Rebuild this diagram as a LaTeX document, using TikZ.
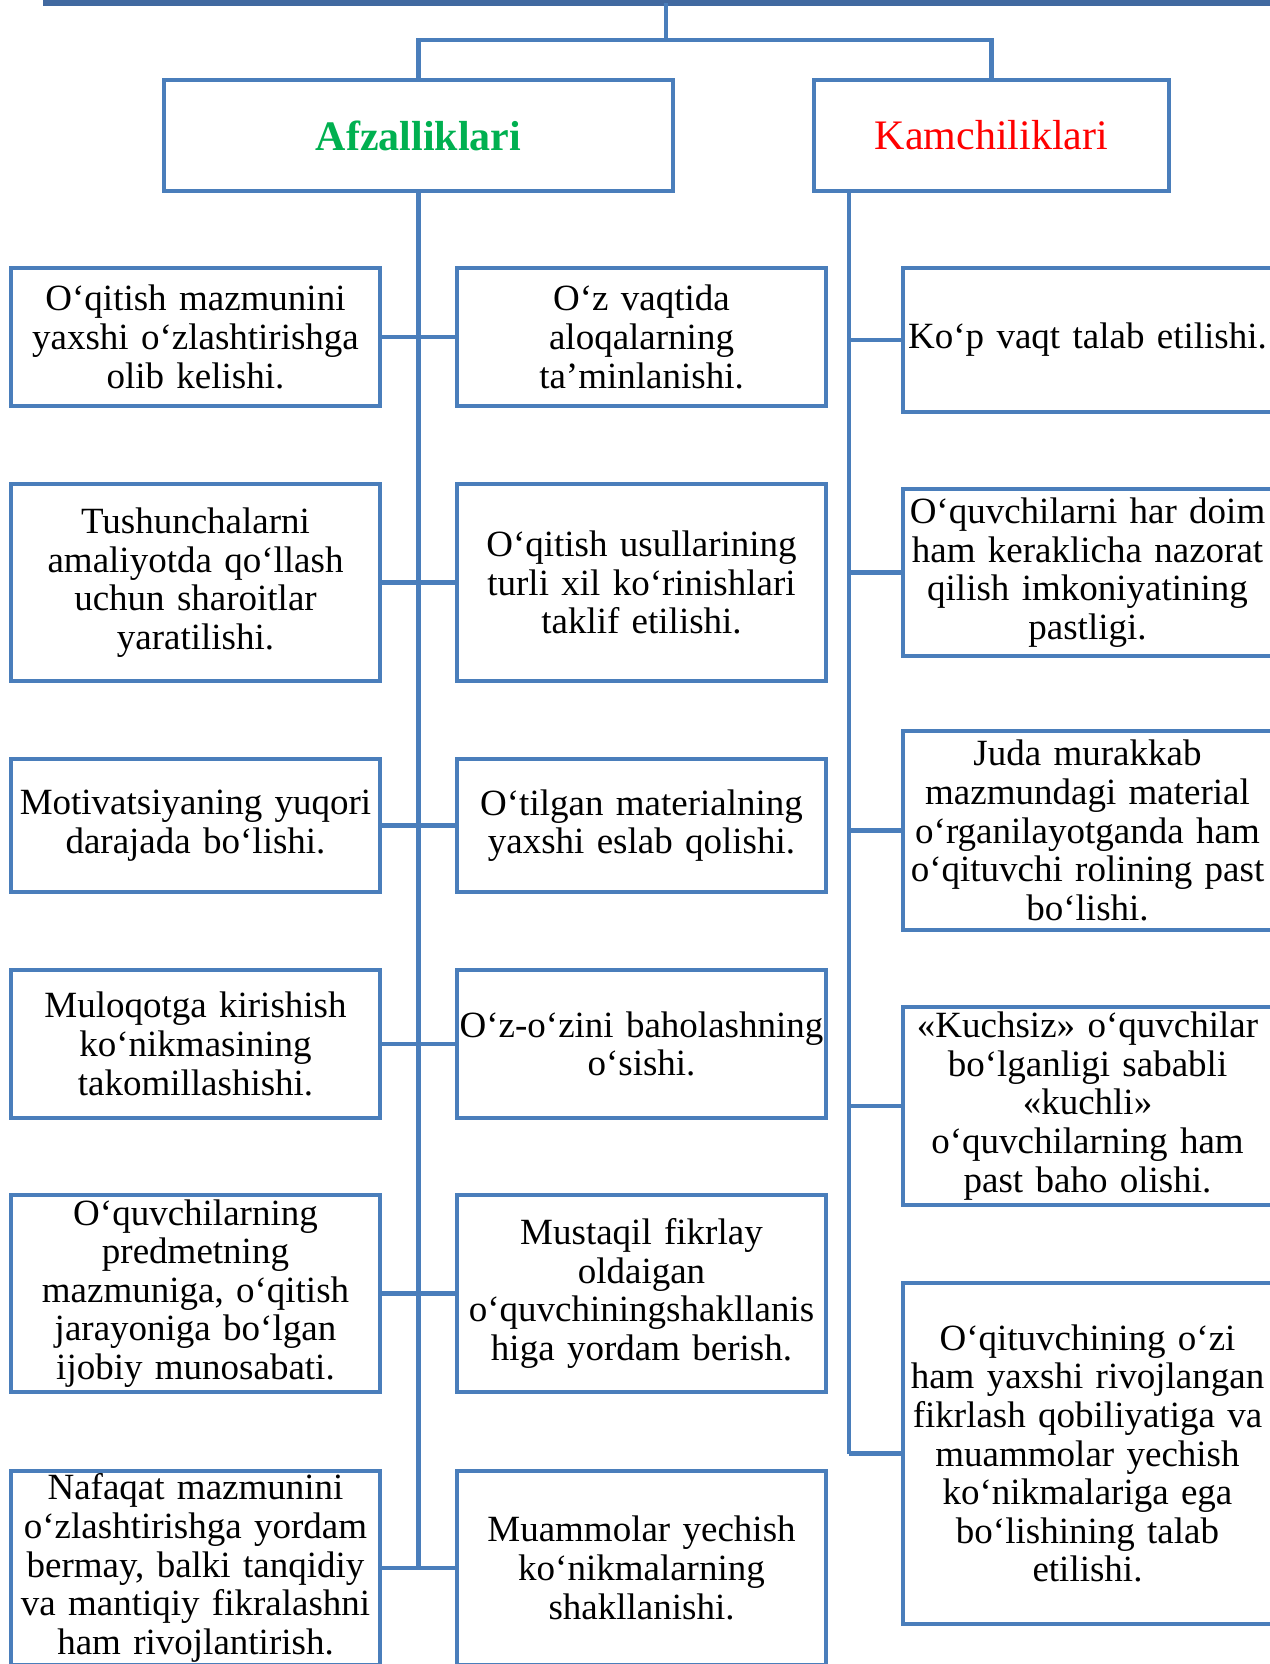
\documentclass[tikz,border=0pt]{standalone}
\usepackage{fontspec}
\setmainfont{Liberation Serif}
\usepackage{xcolor}
\usetikzlibrary{positioning,calc}
\definecolor{boxblue}{RGB}{74,126,187}
\definecolor{rootblue}{RGB}{65,105,160}
\definecolor{afzgreen}{RGB}{0,176,80}
\definecolor{kamred}{RGB}{255,0,0}

\begin{document}
\begin{tikzpicture}[x=1pt,y=-1pt,
    box/.style={draw=boxblue,line width=4.5pt,rectangle,anchor=north west,outer sep=0pt,
      inner sep=2pt,text width=365pt,align=center,font=\fontsize{37}{38.6}\selectfont},
    headbox/.style={draw=boxblue,line width=4.5pt,rectangle,anchor=north west,outer sep=0pt,
      minimum height=111pt,font=\fontsize{42}{46}\selectfont},
    link/.style={draw=boxblue,line width=4.5pt}]
  \useasboundingbox (0,0) rectangle (1269,1664);

  % root box, only its lower edge is seen
  \node[draw=rootblue,line width=6pt,anchor=south west,outer sep=0pt,
    minimum width=1300pt,minimum height=80pt] (root) at (46,3) {};
  \coordinate (split) at (666,40);

  % heads
  \node[headbox,minimum width=509pt] (afz) at (164,80) {\textcolor{afzgreen}{\textbf{Afzalliklari}}};
  \node[headbox,minimum width=355pt] (kam) at (814,80) {\textcolor{kamred}{Kamchiliklari}};
  \coordinate (ktop) at (849,191);

  % afzalliklari, left column
  \node[box,minimum height=138pt] (l1) at (11,268) {O‘qitish mazmunini\\ yaxshi o‘zlashtirishga\\ olib kelishi.};
  \node[box,minimum height=197pt] (l2) at (11,484) {Tushunchalarni\\ amaliyotda qo‘llash\\ uchun sharoitlar\\ yaratilishi.};
  \node[box,minimum height=133pt] (l3) at (11,759) {Motivatsiyaning yuqori\\ darajada bo‘lishi.};
  \node[box,minimum height=148pt] (l4) at (11,970) {Muloqotga kirishish\\ ko‘nikmasining\\ takomillashishi.};
  \node[box,minimum height=197pt] (l5) at (11,1195) {O‘quvchilarning\\ predmetning\\ mazmuniga, o‘qitish\\ jarayoniga bo‘lgan\\ ijobiy munosabati.};
  \node[box,minimum height=194pt] (l6) at (11,1471) {Nafaqat mazmunini\\ o‘zlashtirishga yordam\\ bermay, balki tanqidiy\\ va mantiqiy fikralashni\\ ham rivojlantirish.};

  % afzalliklari, middle column
  \node[box,minimum height=138pt] (m1) at (457,268) {O‘z vaqtida\\ aloqalarning\\ ta’minlanishi.};
  \node[box,minimum height=197pt] (m2) at (457,484) {O‘qitish usullarining\\ turli xil ko‘rinishlari\\ taklif etilishi.};
  \node[box,minimum height=133pt] (m3) at (457,759) {O‘tilgan materialning\\ yaxshi eslab qolishi.};
  \node[box,minimum height=148pt] (m4) at (457,970) {O‘z-o‘zini baholashning\\ o‘sishi.};
  \node[box,minimum height=197pt] (m5) at (457,1195) {Mustaqil fikrlay\\ oldaigan\\ o‘quvchiningshakllanis\\ higa yordam berish.};
  \node[box,minimum height=194pt] (m6) at (457,1471) {Muammolar yechish\\ ko‘nikmalarning\\ shakllanishi.};

  % kamchiliklari
  \node[box,minimum height=144pt] (r1) at (903,268) {Ko‘p vaqt talab etilishi.};
  \node[box,minimum height=167pt] (r2) at (903,489) {O‘quvchilarni har doim\\ ham keraklicha nazorat\\ qilish imkoniyatining\\ pastligi.};
  \node[box,minimum height=199pt] (r3) at (903,731) {Juda murakkab\\ mazmundagi material\\ o‘rganilayotganda ham\\ o‘qituvchi rolining past\\ bo‘lishi.};
  \node[box,minimum height=198pt] (r4) at (903,1007) {«Kuchsiz» o‘quvchilar\\ bo‘lganligi sababli\\ «kuchli»\\ o‘quvchilarning ham\\ past baho olishi.};
  \node[box,minimum height=341pt] (r5) at (903,1283) {O‘qituvchining o‘zi\\ ham yaxshi rivojlangan\\ fikrlash qobiliyatiga va\\ muammolar yechish\\ ko‘nikmalariga ega\\ bo‘lishining talab\\ etilishi.};

  % connectors
  \draw[link] (root.south -| split) -- (split);
  \draw[link] (afz.north) |- (split) -| (kam.north);
  \draw[link] (afz.south) -- (l6.east -| afz.south);
  \draw[link] (ktop) -- (r5.west -| ktop);
  \foreach \i in {1,...,6}
    \draw[link] (l\i.east) -- (m\i.west);
  \foreach \i in {1,...,5}
    \draw[link] (r\i.west -| ktop) -- (r\i.west);
\end{tikzpicture}
\end{document}
